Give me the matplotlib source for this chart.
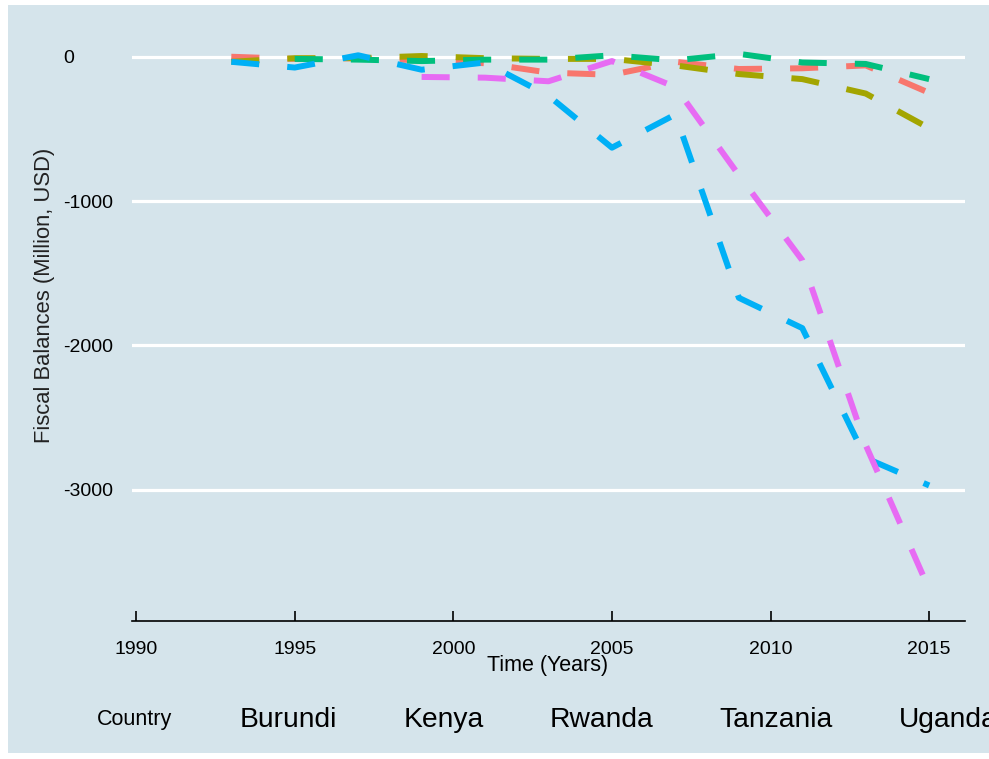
import matplotlib
matplotlib.use("Agg")
import matplotlib.pyplot as plt
from matplotlib.patches import Rectangle

plt.rcParams['font.family'] = ['Liberation Sans', 'DejaVu Sans']

# data (million USD)
countries = ['Burundi', 'Kenya', 'Rwanda', 'Tanzania', 'Uganda']
colors = ['#F8766D', '#A3A500', '#00BF7D', '#00B0F6', '#E76BF3']

yrs_burundi = [1993, 1995, 1997, 1999, 2001, 2003, 2005, 2007, 2009, 2011, 2013, 2015]
bal_burundi = [0, -15, -10, -25, -45, -110, -125, -35, -85, -80, -60, -250]

yrs_kenya = [1993, 1995, 1997, 1999, 2001, 2003, 2005, 2007, 2009, 2011, 2013, 2015]
bal_kenya = [-35, -10, -10, 5, -10, -15, -15, -60, -120, -155, -255, -495]

yrs_rwanda = [1995, 1997, 1999, 2001, 2003, 2005, 2007, 2009, 2011, 2013, 2015]
bal_rwanda = [-15, -20, -30, -20, -20, 10, -25, 20, -40, -50, -155]

yrs_tanzania = [1993, 1995, 1997, 1999, 2001, 2003, 2005, 2007, 2009, 2011, 2013, 2015]
bal_tanzania = [-35, -75, 10, -90, -40, -270, -630, -400, -1670, -1880, -2780, -2970]

yrs_uganda = [1999, 2001, 2003, 2005, 2007, 2009, 2011, 2013, 2015]
bal_uganda = [-140, -145, -170, -30, -210, -820, -1410, -2690, -3690]

series = [(yrs_burundi, bal_burundi), (yrs_kenya, bal_kenya), (yrs_rwanda, bal_rwanda),
          (yrs_tanzania, bal_tanzania), (yrs_uganda, bal_uganda)]

xticks = [1990, 1995, 2000, 2005, 2010, 2015]
yticks = [0, -1000, -2000, -3000]

bg = '#d5e4eb'

fig = plt.figure(figsize=(9.89, 7.59), dpi=100)
fig.patch.set_facecolor('white')
fig.patches.append(Rectangle((8 / 989, 6 / 759), 1, 1 - 11 / 759, transform=fig.transFigure,
                             facecolor=bg, edgecolor='none', zorder=-10))

ax = fig.add_axes([132 / 989, 1 - 621 / 759, (965 - 132) / 989, (621 - 27) / 759])
ax.set_facecolor(bg)

for (x, y), c in zip(series, colors):
    ax.plot(x, y, color=c, lw=4.3, linestyle=(0, (4.7, 4.7)), dash_capstyle='butt',
            solid_capstyle='butt', zorder=3)

ax.set_xlim(1989.87, 2016.13)
ax.set_ylim(-3909, 206)
ax.set_xticks(xticks)
ax.set_yticks(yticks)
ax.set_yticklabels([str(v) for v in yticks], ha='left')
ax.grid(axis='y', color='white', lw=2.3, zorder=1)
ax.set_axisbelow(True)

for s in ['top', 'right', 'left']:
    ax.spines[s].set_visible(False)
ax.spines['bottom'].set_linewidth(1.2)
ax.spines['bottom'].set_color('black')

ax.tick_params(axis='x', direction='in', length=7, width=1.2, pad=14.5, labelsize=14)
ax.tick_params(axis='y', length=0, pad=49.7, labelsize=14)

fig.text(0.0455, 0.611, 'Fiscal Balances (Million, USD)', rotation=90,
         ha='center', va='center', fontsize=15.8, color='#222222')
fig.text(548 / 989, 1 - 665 / 759, 'Time (Years)', ha='center', va='center', fontsize=15.5)

# legend: title and labels only, no keys
fig.canvas.draw()
renderer = fig.canvas.get_renderer()
ly = 1 - 720 / 759
fig.text(97 / 989, ly, 'Country', ha='left', va='center', fontsize=15.5)
xpos = 240
for name in countries:
    t = fig.text(xpos / 989, ly, name, ha='left', va='center', fontsize=20.3)
    w = t.get_window_extent(renderer).width
    xpos = xpos + w + 66

fig.savefig('out.png', dpi=100, facecolor=fig.get_facecolor())
